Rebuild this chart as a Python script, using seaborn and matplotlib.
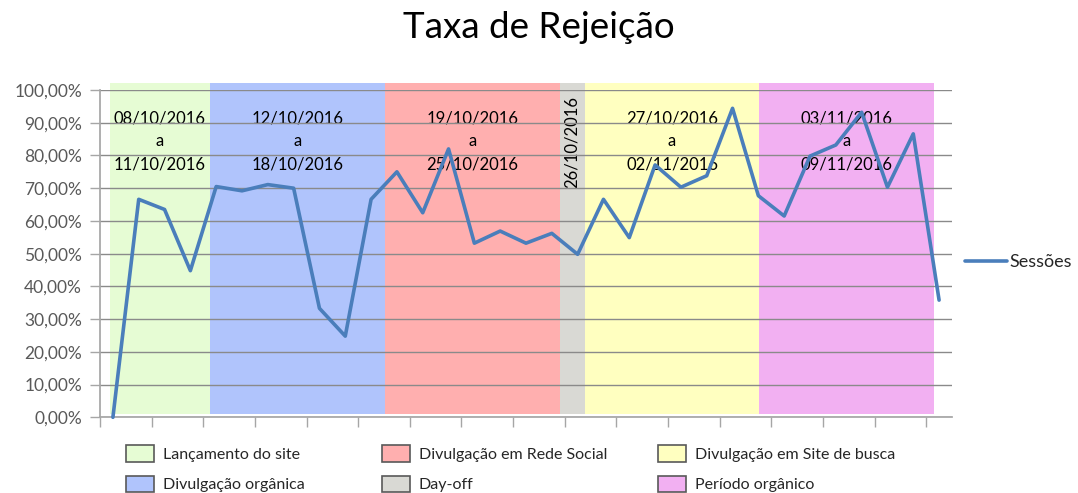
import numpy as np
import matplotlib
matplotlib.use("Agg")
import matplotlib.pyplot as plt
from matplotlib.patches import Patch
import seaborn as sns

# dados
dias = list(range(33))  # 08/10/2016 .. 09/11/2016
taxa = [0.000, 0.666, 0.635, 0.448, 0.705, 0.692, 0.711, 0.700, 0.333, 0.248,
        0.666, 0.750, 0.625, 0.820, 0.532, 0.569, 0.532, 0.562, 0.498, 0.666,
        0.549, 0.771, 0.703, 0.738, 0.944, 0.677, 0.615, 0.798, 0.832, 0.932,
        0.703, 0.866, 0.358]

periodos = ["Lançamento do site", "Divulgação orgânica", "Divulgação em Rede Social",
            "Day-off", "Divulgação em Site de busca", "Período orgânico"]
periodo_dias = [4, 7, 7, 1, 7, 7]
periodo_textos = ["08/10/2016\na\n11/10/2016", "12/10/2016\na\n18/10/2016",
                  "19/10/2016\na\n25/10/2016", "26/10/2016",
                  "27/10/2016\na\n02/11/2016", "03/11/2016\na\n09/11/2016"]
periodo_cores = ["#E6FCD4", "#B0C4FC", "#FFAFAF", "#D9D9D4", "#FFFFC0", "#F2B0F2"]

sns.set_theme(style="ticks")
plt.rcParams['font.family'] = ['Lato', 'DejaVu Sans']

fig = plt.figure(figsize=(10.78, 4.93), dpi=100)
ax = fig.add_axes([100 / 1078, 1 - 417.3 / 493, 852 / 1078, 327.3 / 493])
ax2 = ax.twiny()

# faixas dos periodos (eixo secundario)
inicio = np.concatenate([[0], np.cumsum(periodo_dias)[:-1]])
ax2.bar(inicio, 1.012, width=periodo_dias, bottom=0.009, align='edge',
        color=periodo_cores, linewidth=0, clip_on=False)
ax2.set_xlim(-0.4003, 33.707)
ax2.xaxis.set_visible(False)
for s in ax2.spines.values():
    s.set_visible(False)

centros = inicio + np.array(periodo_dias) / 2
for c, t in zip(centros, periodo_textos):
    if '\n' in t:
        ax2.text(c, 0.843, t, ha='center', va='center', fontsize=12,
                 linespacing=1.55, color='black')
    else:
        ax2.text(c, 0.84, t, ha='center', va='center', fontsize=12,
                 rotation=90, color='black')

# linha principal
ax.set_zorder(ax2.get_zorder() + 1)
ax.patch.set_visible(False)
sns.lineplot(x=dias, y=taxa, ax=ax, color='#4A7EBB', lw=2.6, label='Sessões',
             zorder=5, clip_on=False)

ax.set_xlim(-0.5, 32.5)
ax.set_ylim(0, 1)
ax.set_xticks(np.arange(-0.5, 32, 2))
ax.set_xticklabels([])
yt = np.arange(0, 1.01, 0.1)
ax.set_yticks(yt)
ax.set_yticklabels([f"{v * 100:.2f}%".replace('.', ',') for v in yt],
                   fontsize=12.5, color='#595959')
ax.yaxis.grid(True, color='#8a8a8a', lw=1)
ax.tick_params(axis='both', direction='out', length=7, width=1, color='#a6a6a6', pad=6)
ax.set_xlabel('')
ax.set_ylabel('')
sns.despine(ax=ax, top=True, right=True)
ax.spines['left'].set_color('#a6a6a6')
ax.spines['bottom'].set_color('#a6a6a6')

ax.legend(loc='center left', bbox_to_anchor=(965 / 1078, 1 - 262 / 493),
          bbox_transform=fig.transFigure, frameon=False, fontsize=13,
          handlelength=2.3, handletextpad=0.15, borderpad=0, borderaxespad=0)

# legenda inferior, tres colunas
xcol = [126, 381.7, 658]
for k in range(3):
    hs = [Patch(facecolor=periodo_cores[i], edgecolor='#595959', lw=1.2,
                label=periodos[i]) for i in (2 * k, 2 * k + 1)]
    fig.legend(handles=hs, loc='upper left',
               bbox_to_anchor=(xcol[k] / 1078, 1 - 445 / 493),
               frameon=False, fontsize=11.5, handlelength=1.76, handleheight=1.24,
               handletextpad=0.55, labelspacing=0.86, borderpad=0, borderaxespad=0)

fig.text(0.5, 1 - 27 / 493, "Taxa de Rejeição", ha='center', va='center',
         fontsize=26.5, color='black')

fig.savefig("out.png", dpi=100)
